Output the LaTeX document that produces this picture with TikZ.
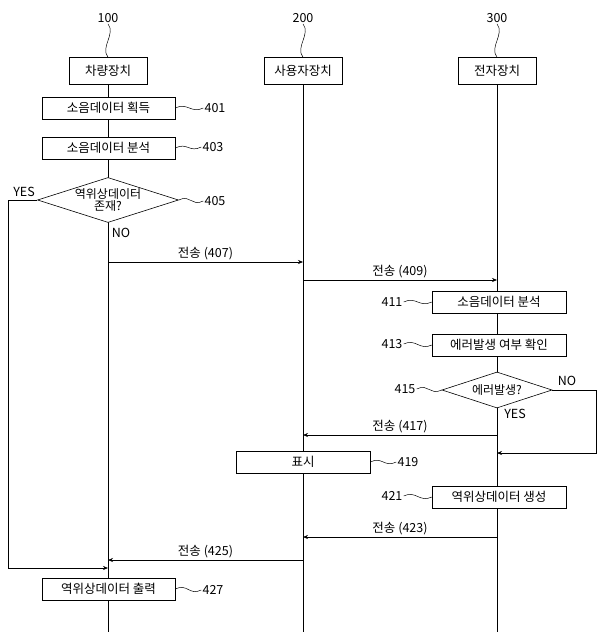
\documentclass[tikz,border=0pt]{standalone}
\usepackage{fontspec}
\setmainfont{Noto Sans CJK KR}
\usetikzlibrary{shapes.geometric,arrows.meta}
\begin{document}
\begin{tikzpicture}[x=1pt,y=-1pt,line width=0.6pt,
  box/.style={draw,fill=white,minimum height=22pt,inner sep=1pt,font=\fontsize{12.5}{13}\selectfont},
  hbox/.style={box,minimum height=27pt,minimum width=78pt},
  dia/.style={draw,fill=white,diamond,aspect=3.2,inner sep=0pt,align=center,font=\fontsize{12}{12.5}\selectfont},
  lbl/.style={font=\fontsize{12.5}{13}\selectfont,inner sep=1pt},
  arr/.style={-{Stealth[length=5pt,width=4pt]}},
  wig/.style={line width=0.5pt}]
\useasboundingbox (0,0) rectangle (600,636);
\foreach \x/\n in {108/a,303/b,497/c}{\draw (\x,70) -- (\x,632);}
\node[lbl] (n100) at (108,18) {100};
\node[lbl] (n200) at (303,18) {200};
\node[lbl] (n300) at (497,18) {300};
\node[hbox] (h1) at (108,71) {차량장치};
\node[hbox] (h2) at (303,71) {사용자장치};
\node[hbox] (h3) at (497,71) {전자장치};
\foreach \a/\b in {n100/h1,n200/h2,n300/h3}{\draw[wig] (\a.south) .. controls +(8,10) and +(-8,-10) .. (\b.north);}
\node[box,minimum width=133pt] (b401) at (108.5,108) {소음데이터 획득};
\node[box,minimum width=133pt] (b403) at (108.5,148) {소음데이터 분석};
\node[dia,minimum width=140pt,minimum height=45pt] (d405) at (108,200) {역위상데이터\\존재?};
\node[box,minimum width=134pt] (b411) at (499,302) {소음데이터 분석};
\node[box,minimum width=134pt] (b413) at (499,345) {에러발생 여부 확인};
\node[dia,minimum width=110pt,minimum height=36pt] (d415) at (497,390) {에러발생?};
\node[box,minimum width=134pt] (b419) at (303,462) {표시};
\node[box,minimum width=134pt] (b421) at (499,497) {역위상데이터 생성};
\node[box,minimum width=133pt] (b427) at (108.5,589) {역위상데이터 출력};
\node[lbl] (l401) at (215,108) {401};
\node[lbl] (l403) at (213,147) {403};
\node[lbl] (l405) at (215,201) {405};
\node[lbl] (l411) at (392,302) {411};
\node[lbl] (l413) at (392,344) {413};
\node[lbl] (l415) at (405,389) {415};
\node[lbl] (l419) at (408,462) {419};
\node[lbl] (l421) at (392,496) {421};
\node[lbl] (l427) at (213,590) {427};
\foreach \b/\l in {b401/l401,b403/l403,d405/l405,b419/l419,b427/l427}{\draw[wig] (\b.east) .. controls +(12,-6) and +(-12,6) .. (\l.west);}
\foreach \b/\l in {b411/l411,b413/l413,d415/l415,b421/l421}{\draw[wig] (\l.east) .. controls +(12,-6) and +(-12,6) .. (\b.west);}
\node[lbl] (yes1) at (24,192) {YES};
\node[lbl] (no1) at (121,233) {NO};
\node[lbl] (no2) at (567,381) {NO};
\node[lbl] (yes2) at (515,414) {YES};
\coordinate (y1a) at (8,200); \coordinate (y1b) at (8,568); \coordinate (y1c) at (108,568);
\draw[arr] (d405.west) -- (y1a) -- (y1b) -- (y1c);
\coordinate (n2a) at (596,390); \coordinate (n2b) at (596,453); \coordinate (n2c) at (497,453);
\draw[arr] (d415.east) -- (n2a) -- (n2b) -- (n2c);
\foreach \y/\xa/\xb/\t in {262/108/303/{전송 (407)},280/303/497/{전송 (409)},435/497/303/{전송 (417)},537/497/303/{전송 (423)},560/303/108/{전송 (425)}}{
  \coordinate (s) at (\xa,\y); \coordinate (e) at (\xb,\y);
  \draw[arr] (s) -- node[above,lbl,yshift=1pt]{\t} (e);}
\end{tikzpicture}
\end{document}
